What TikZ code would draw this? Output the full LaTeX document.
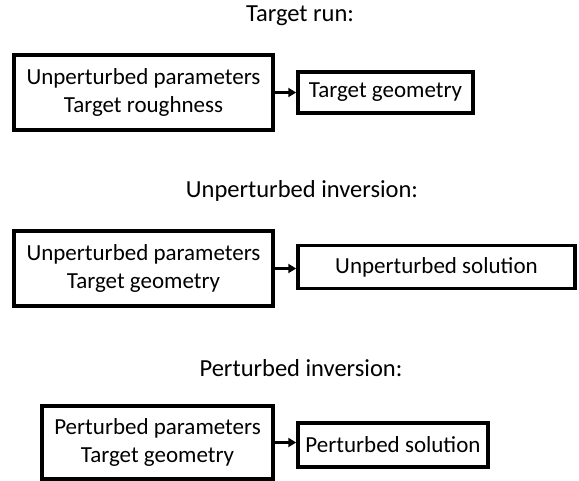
\documentclass[tikz,border=0pt]{standalone}
\usepackage{fontspec}
\setmainfont{Carlito}
\usetikzlibrary{arrows.meta}
\begin{document}
\begin{tikzpicture}[x=1pt,y=-1pt,
  box/.style={draw=black,line width=3.5pt,inner sep=0pt,align=center,
    font=\fontsize{23}{28}\selectfont},
  ttl/.style={inner sep=0pt,font=\fontsize{24.5}{28}\selectfont},
  conn/.style={line width=3pt,-{Triangle[length=8pt,width=9pt]}}]
\useasboundingbox (0,0) rectangle (579,481);
\node[ttl] (t1) at (300,16) {Target run:};
\node[box,minimum width=259pt,minimum height=75pt] (a1) at (143.5,92.5) {Unperturbed parameters\\Target roughness};
\node[box,minimum width=175pt,minimum height=41pt] (b1) at (385.5,92.5) {Target geometry};
\draw[conn] (a1.east) -- (a1.east -| b1.west);

\node[ttl] (t2) at (302,191) {Unperturbed inversion:};
\node[box,minimum width=259pt,minimum height=75pt] (a2) at (143.5,268.5) {Unperturbed parameters\\Target geometry};
\node[box,minimum width=277pt,minimum height=43pt] (b2) at (436.5,267) {Unperturbed solution};
\draw[conn] (a2.east) -- (a2.east -| b2.west);

\node[ttl] (t3) at (301,368) {Perturbed inversion:};
\node[box,minimum width=231pt,minimum height=73pt] (a3) at (157.5,442.5) {Perturbed parameters\\Target geometry};
\node[box,minimum width=190pt,minimum height=44pt] (b3) at (393,445) {Perturbed solution};
\draw[conn] (a3.east) -- (a3.east -| b3.west);
\end{tikzpicture}
\end{document}
